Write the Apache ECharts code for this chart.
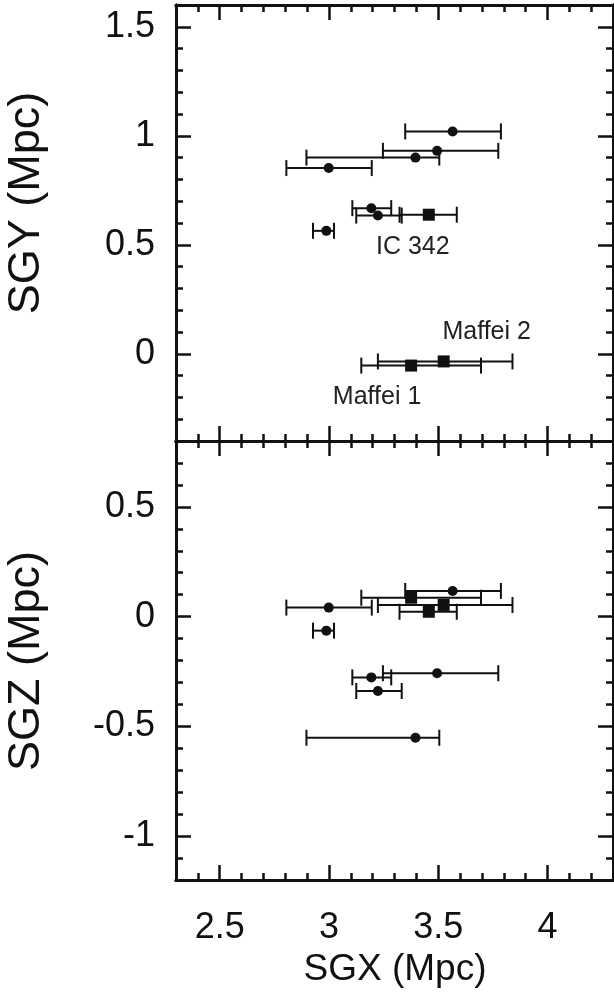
<!DOCTYPE html>
<html><head><meta charset="utf-8">
<script src="https://cdn.jsdelivr.net/npm/echarts@6/dist/echarts.min.js"></script>
<style>html,body{margin:0;padding:0;background:#fff}#c{width:614px;height:993px}</style>
</head><body><div id="c"></div>
<script>
// ---- data (Mpc) ----
const circleSGX = [3.566, 3.495, 3.396, 2.999, 3.194, 3.224, 2.988];
const circleSGY = [1.020, 0.931, 0.900, 0.852, 0.668, 0.634, 0.564];
const circleSGZ = [0.117, -0.258, -0.552, 0.041, -0.277, -0.339, -0.064];
const circleXlo = [3.349, 3.247, 2.897, 2.805, 3.107, 3.125, 2.927];
const circleXhi = [3.787, 3.775, 3.505, 3.196, 3.285, 3.333, 3.023];

const squareNames = ['IC 342', 'Maffei 1', 'Maffei 2'];
const squareSGX = [3.457, 3.376, 3.525];
const squareSGY = [0.638, -0.054, -0.035];
const squareSGZ = [0.022, 0.086, 0.053];
const squareXlo = [3.323, 3.148, 3.224];
const squareXhi = [3.585, 3.696, 3.840];

// ---- ticks ----
const xRange = [2.3, 4.3];
const yTopRange = [-0.4, 1.6];
const zRange = [-1.2, 0.8];
const xMajorTicks = [2.5, 3, 3.5, 4];
const xMinorTicks = [2.4, 2.6, 2.7, 2.8, 2.9, 3.1, 3.2, 3.3, 3.4, 3.6, 3.7, 3.8, 3.9, 4.1, 4.2];
const yTopMajorTicks = [0, 0.5, 1, 1.5];
const yTopMinorTicks = [-0.3, -0.2, -0.1, 0.1, 0.2, 0.3, 0.4, 0.6, 0.7, 0.8, 0.9, 1.1, 1.2, 1.3, 1.4];
const zMajorTicks = [-1, -0.5, 0, 0.5];
const zMinorTicks = [-1.1, -0.9, -0.8, -0.7, -0.6, -0.4, -0.3, -0.2, -0.1, 0.1, 0.2, 0.3, 0.4, 0.6, 0.7];

// ---- styling ----
const FONT = '"Liberation Sans", Arial, Helvetica, sans-serif';
const INK = '#111';
const labelOffsets = { 'IC 342': [-16, 32], 'Maffei 1': [-34, 32], 'Maffei 2': [43, -29] };

const panelTop = { left: 176, top: 5, width: 437, height: 436 };
const panelBot = { left: 176, top: 441, width: 437, height: 439 };

function axis(gridIndex, position, range, ticks, major, labels) {
  return {
    type: 'value', gridIndex, position, min: range[0], max: range[1],
    axisLine: { show: true, onZero: false, lineStyle: { color: INK, width: 3 } },
    splitLine: { show: false },
    axisTick: { show: true, inside: true, length: major ? 15 : 7, customValues: ticks,
                lineStyle: { color: INK, width: 2.5 } },
    axisLabel: labels ? { show: true, customValues: ticks, fontSize: 36, fontFamily: FONT,
                          color: INK, margin: position === 'left' ? 21 : 30 }
                      : { show: false }
  };
}

const xAxes = [
  axis(0, 'bottom', xRange, xMajorTicks, true, false), axis(0, 'top', xRange, xMajorTicks, true, false),
  axis(1, 'bottom', xRange, xMinorTicks, false, false), axis(1, 'top', xRange, xMinorTicks, false, false),
  axis(2, 'bottom', xRange, xMajorTicks, true, true), axis(2, 'top', xRange, xMajorTicks, true, false),
  axis(3, 'bottom', xRange, xMinorTicks, false, false), axis(3, 'top', xRange, xMinorTicks, false, false)
];
const yAxes = [
  axis(0, 'left', yTopRange, yTopMajorTicks, true, true), axis(0, 'right', yTopRange, yTopMajorTicks, true, false),
  axis(1, 'left', yTopRange, yTopMinorTicks, false, false), axis(1, 'right', yTopRange, yTopMinorTicks, false, false),
  axis(2, 'left', zRange, zMajorTicks, true, true), axis(2, 'right', zRange, zMajorTicks, true, false),
  axis(3, 'left', zRange, zMinorTicks, false, false), axis(3, 'right', zRange, zMinorTicks, false, false)
];

function errorBarSeries(xAxisIndex, yAxisIndex, xs, ys, lo, hi) {
  return {
    type: 'custom', xAxisIndex, yAxisIndex, z: 2,
    encode: { x: 0, y: 1 },
    data: xs.map((x, i) => [x, ys[i], lo[i], hi[i]]),
    renderItem: (params, api) => {
      const y = api.value(1);
      const p1 = api.coord([api.value(2), y]);
      const p2 = api.coord([api.value(3), y]);
      const h = 8;
      const style = { stroke: INK, lineWidth: 2, fill: null };
      return { type: 'group', children: [
        { type: 'line', shape: { x1: p1[0], y1: p1[1], x2: p2[0], y2: p2[1] }, style },
        { type: 'line', shape: { x1: p1[0], y1: p1[1] - h, x2: p1[0], y2: p1[1] + h }, style },
        { type: 'line', shape: { x1: p2[0], y1: p2[1] - h, x2: p2[0], y2: p2[1] + h }, style }
      ]};
    }
  };
}

function circleSeries(xAxisIndex, yAxisIndex, ys) {
  return { type: 'scatter', xAxisIndex, yAxisIndex, z: 5, symbol: 'circle', symbolSize: 10,
    itemStyle: { color: INK, opacity: 1 },
    data: circleSGX.map((x, i) => [x, ys[i]]) };
}
function squareSeries(xAxisIndex, yAxisIndex, ys, withLabels) {
  return { type: 'scatter', xAxisIndex, yAxisIndex, z: 5, symbol: 'rect', symbolSize: 12,
    itemStyle: { color: INK, opacity: 1 },
    data: squareSGX.map((x, i) => ({
      name: squareNames[i], value: [x, ys[i]],
      label: { show: withLabels, position: 'inside', offset: labelOffsets[squareNames[i]],
               formatter: '{b}', fontSize: 25, fontFamily: FONT, color: '#222' }
    })) };
}

const option = {
  animation: false,
  backgroundColor: '#fff',
  grid: [panelTop, panelTop, panelBot, panelBot].map(g => Object.assign({ containLabel: false }, g)),
  xAxis: xAxes,
  yAxis: yAxes,
  series: [
    errorBarSeries(0, 0, circleSGX, circleSGY, circleXlo, circleXhi),
    errorBarSeries(0, 0, squareSGX, squareSGY, squareXlo, squareXhi),
    circleSeries(0, 0, circleSGY),
    squareSeries(0, 0, squareSGY, true),
    errorBarSeries(4, 4, circleSGX, circleSGZ, circleXlo, circleXhi),
    errorBarSeries(4, 4, squareSGX, squareSGZ, squareXlo, squareXhi),
    circleSeries(4, 4, circleSGZ),
    squareSeries(4, 4, squareSGZ, false)
  ],
  graphic: [
    { type: 'text', x: 27, y: 203, rotation: Math.PI / 2,
      style: { text: 'SGY (Mpc)', fontSize: 45, fontFamily: FONT, fill: INK, align: 'center', verticalAlign: 'middle' } },
    { type: 'text', x: 27, y: 661, rotation: Math.PI / 2,
      style: { text: 'SGZ (Mpc)', fontSize: 45, fontFamily: FONT, fill: INK, align: 'center', verticalAlign: 'middle' } },
    { type: 'text', x: 395, y: 970,
      style: { text: 'SGX (Mpc)', fontSize: 37, fontFamily: FONT, fill: INK, align: 'center', verticalAlign: 'middle' } }
  ]
};

const chart = echarts.init(document.getElementById('c'), null, { renderer: 'canvas' });
chart.setOption(option);
</script>
</body></html>
